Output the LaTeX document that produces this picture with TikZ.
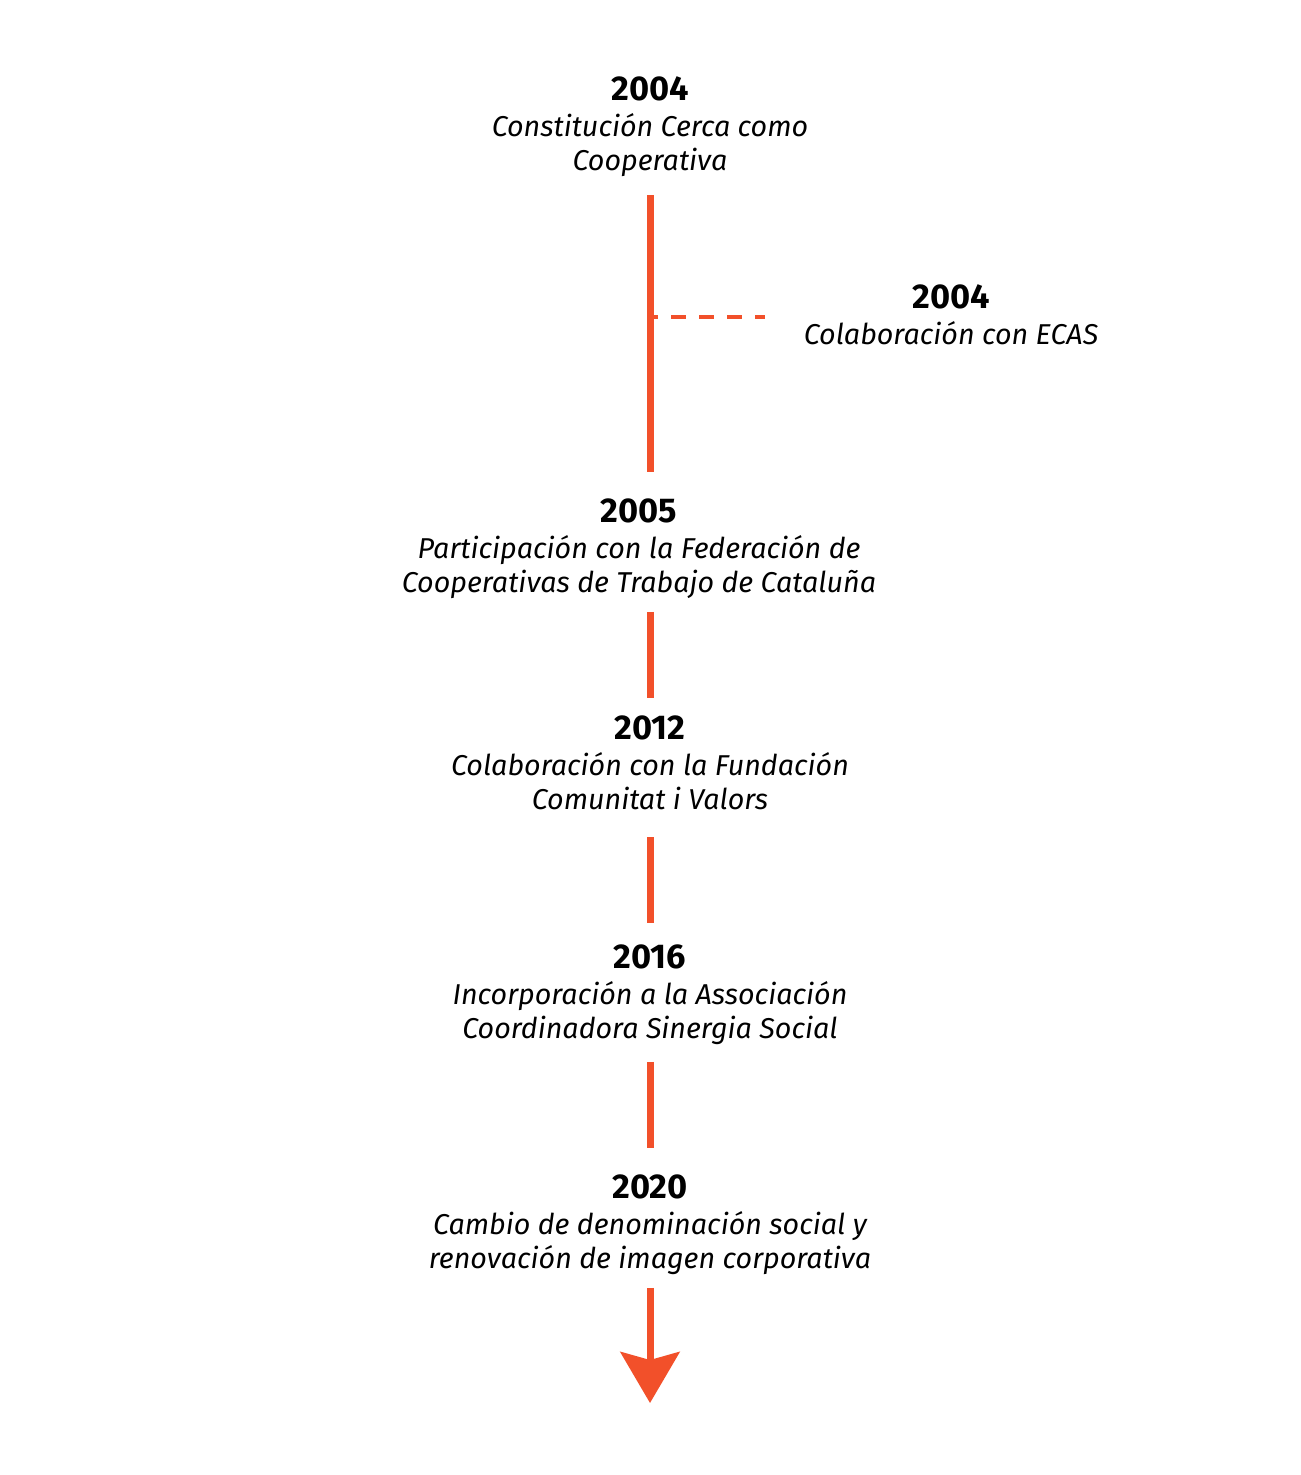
\documentclass[tikz,border=0pt]{standalone}
\usepackage{fontspec}
\setmainfont{Fira Sans}
\usetikzlibrary{arrows.meta}
\definecolor{tlorange}{RGB}{242,80,42}
\tikzset{
  event/.style={align=center, inner sep=0pt, outer sep=10pt,
    font=\fontsize{14.35}{17}\selectfont\itshape},
  tline/.style={draw=tlorange, line width=3.5pt},
  branch/.style={draw=tlorange, line width=2pt, dash pattern=on 7.5pt off 6.5pt, dash phase=3.5pt},
}
\newcommand{\yr}[1]{{\fontsize{17.2}{17}\selectfont\bfseries\upshape #1}}
\begin{document}
\begin{tikzpicture}[x=0.5pt,y=-0.5pt]
\useasboundingbox[fill=white] (0,0) rectangle (1300,1475);
\node[event] (e1) at (650,127) {\yr{2004}\\[1pt]Constitución Cerca como\\Cooperativa};
\node[event] (e2) at (639,549) {\yr{2005}\\[1pt]Participación con la Federación de\\Cooperativas de Trabajo de Cataluña};
\node[event] (e3) at (650,763) {\yr{2012}\\[1pt]Colaboración con la Fundación\\Comunitat i Valors};
\node[event] (e4) at (650,995) {\yr{2016}\\[1pt]Incorporación a la Associación\\Coordinadora Sinergia Social};
\node[event] (e5) at (650,1225) {\yr{2020}\\[1pt]Cambio de denominación social y\\renovación de imagen corporativa};
\node[event] (ecas) at (951,315) {\yr{2004}\\[1pt]Colaboración con ECAS};
\coordinate (br) at (650,317);
\coordinate (brend) at (765,317);
\coordinate (arrowend) at (650,1403);
\draw[tline, shorten <=-1pt, shorten >=3.5pt] (e1.south -| br) -- (e2.north -| br);
\draw[tline, shorten <=-3.5pt, shorten >=-1pt] (e2.south -| br) -- (e3.north);
\draw[tline, shorten <=3.5pt, shorten >=1pt] (e3) -- (e4);
\draw[tline, shorten <=-1.5pt, shorten >=3.5pt] (e4) -- (e5);
\draw[branch] (br) -- (brend);
\draw[tline, shorten <=-3.5pt, -{Stealth[length=25.5pt, width=29.5pt, inset=4pt]}] (e5) -- (arrowend);
\end{tikzpicture}
\end{document}
